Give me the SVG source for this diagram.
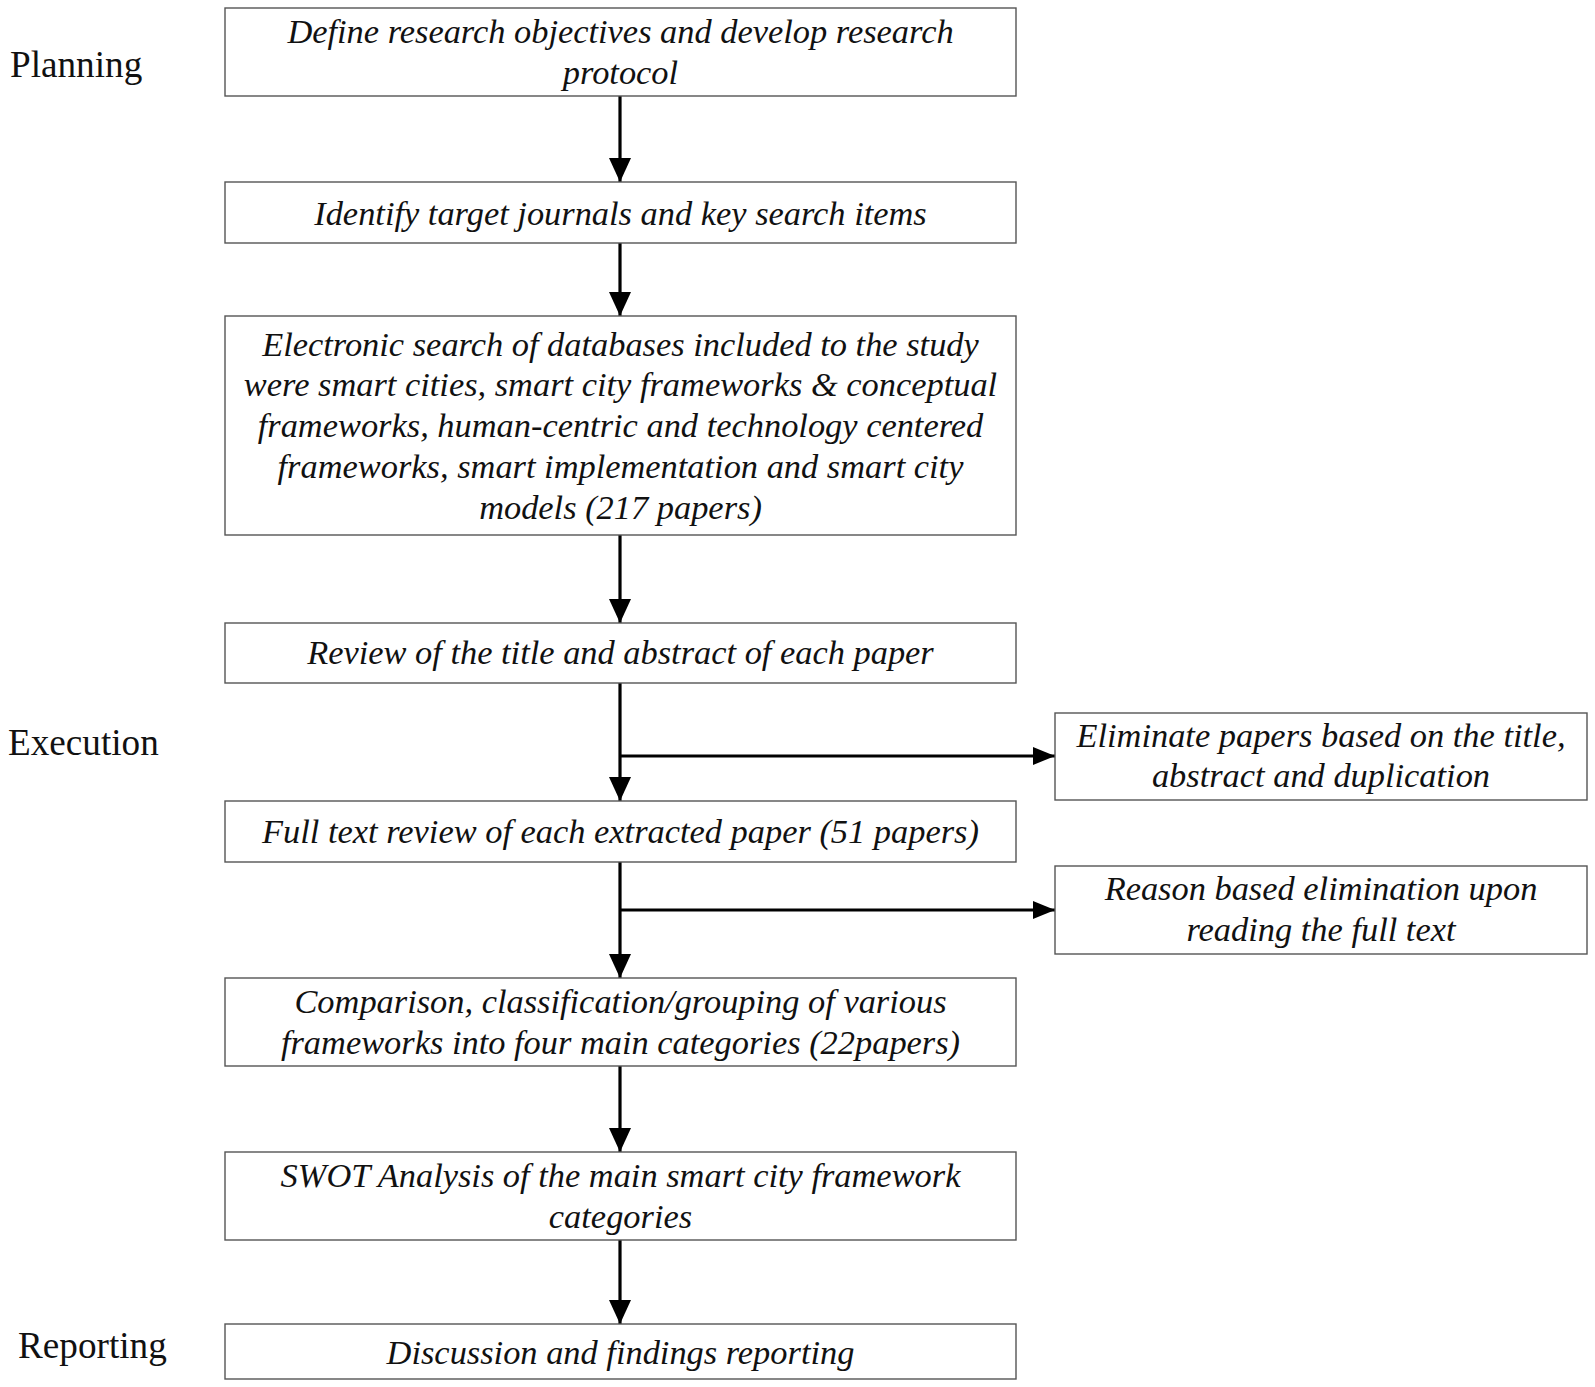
<svg xmlns="http://www.w3.org/2000/svg" width="1595" height="1387" viewBox="0 0 1595 1387">
<style>
.box{fill:#fff;stroke:#555;stroke-width:1.4}
.t{font-family:"Liberation Serif","Times New Roman",serif;font-style:italic;font-size:34.4px;fill:#111;text-anchor:middle}
.lab{font-family:"Liberation Serif","Times New Roman",serif;font-size:37.2px;fill:#111}
.ln{stroke:#000;stroke-width:3.2;fill:none}
</style>
<defs>
<marker id="ah" markerUnits="userSpaceOnUse" markerWidth="24" markerHeight="24" viewBox="0 0 24 24" refX="24" refY="12" orient="auto">
<path d="M0,1 L24,12 L0,23 Z" fill="#000"/>
</marker>
<marker id="ah2" markerUnits="userSpaceOnUse" markerWidth="22" markerHeight="22" viewBox="0 0 22 22" refX="22" refY="11" orient="auto">
<path d="M0,2 L22,11 L0,20 Z" fill="#000"/>
</marker>
</defs>
<rect width="1595" height="1387" fill="#fff"/>
<g id="labels">
<text class="lab" x="10" y="77">Planning</text>
<text class="lab" x="8" y="755">Execution</text>
<text class="lab" x="18" y="1358">Reporting</text>
</g>
<g id="connectors">
<line class="ln" x1="620" y1="96" x2="620" y2="182" marker-end="url(#ah)"/>
<line class="ln" x1="620" y1="243" x2="620" y2="316" marker-end="url(#ah)"/>
<line class="ln" x1="620" y1="535" x2="620" y2="623" marker-end="url(#ah)"/>
<line class="ln" x1="620" y1="683" x2="620" y2="801" marker-end="url(#ah)"/>
<line class="ln" x1="620" y1="756" x2="1055" y2="756" marker-end="url(#ah2)"/>
<line class="ln" x1="620" y1="862" x2="620" y2="978" marker-end="url(#ah)"/>
<line class="ln" x1="620" y1="910" x2="1055" y2="910" marker-end="url(#ah2)"/>
<line class="ln" x1="620" y1="1066" x2="620" y2="1152" marker-end="url(#ah)"/>
<line class="ln" x1="620" y1="1240" x2="620" y2="1324" marker-end="url(#ah)"/>
</g>
<g id="n1"><rect class="box" x="225" y="8" width="791" height="88"/>
<text class="t" x="620.5" y="43">Define research objectives and develop research</text>
<text class="t" x="620.5" y="84">protocol</text></g>
<g id="n2"><rect class="box" x="225" y="182" width="791" height="61"/>
<text class="t" x="620.5" y="225">Identify target journals and key search items</text></g>
<g id="n3"><rect class="box" x="225" y="316" width="791" height="219"/>
<text class="t" x="620.5" y="355.5">Electronic search of databases included to the study</text>
<text class="t" x="620.5" y="396">were smart cities, smart city frameworks &amp; conceptual</text>
<text class="t" x="620.5" y="437">frameworks, human-centric and technology centered</text>
<text class="t" x="620.5" y="477.5">frameworks, smart implementation and smart city</text>
<text class="t" x="620.5" y="518.5">models (217 papers)</text></g>
<g id="n4"><rect class="box" x="225" y="623" width="791" height="60"/>
<text class="t" x="620.5" y="664">Review of the title and abstract of each paper</text></g>
<g id="n5"><rect class="box" x="1055" y="713" width="532" height="87"/>
<text class="t" x="1321" y="746.5">Eliminate papers based on the title,</text>
<text class="t" x="1321" y="787">abstract and duplication</text></g>
<g id="n6"><rect class="box" x="225" y="801" width="791" height="61"/>
<text class="t" x="620.5" y="843">Full text review of each extracted paper (51 papers)</text></g>
<g id="n7"><rect class="box" x="1055" y="866" width="532" height="88"/>
<text class="t" x="1321" y="900">Reason based elimination upon</text>
<text class="t" x="1321" y="941">reading the full text</text></g>
<g id="n8"><rect class="box" x="225" y="978" width="791" height="88"/>
<text class="t" x="620.5" y="1013">Comparison, classification/grouping of various</text>
<text class="t" x="620.5" y="1054">frameworks into four main categories (22papers)</text></g>
<g id="n9"><rect class="box" x="225" y="1152" width="791" height="88"/>
<text class="t" x="620.5" y="1187">SWOT Analysis of the main smart city framework</text>
<text class="t" x="620.5" y="1228">categories</text></g>
<g id="n10"><rect class="box" x="225" y="1324" width="791" height="55"/>
<text class="t" x="620.5" y="1364">Discussion and findings reporting</text></g>
</svg>
